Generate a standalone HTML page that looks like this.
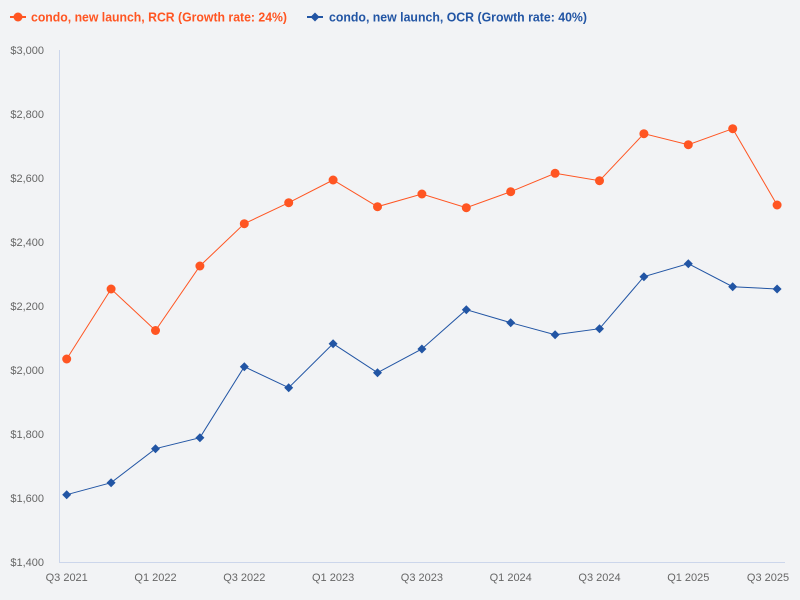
<!DOCTYPE html>
<html><head><meta charset="utf-8"><style>
html,body{margin:0;padding:0;background:#f2f3f5;}
svg{display:block;}
text{font-family:"Liberation Sans",Arial,sans-serif;}
</style></head><body>
<svg width="800" height="600" viewBox="0 0 800 600" xmlns="http://www.w3.org/2000/svg">
<rect width="800" height="600" fill="#f2f3f5"/>
<!-- legend -->
<line x1="10" y1="17" x2="26" y2="17" stroke="#ff5522" stroke-width="2"/>
<circle cx="18" cy="17" r="4.5" fill="#ff5522"/>
<text x="31" y="21.5" font-size="12.5" font-weight="bold" fill="#ff5522" textLength="256" lengthAdjust="spacingAndGlyphs">condo, new launch, RCR (Growth rate: 24%)</text>
<line x1="307" y1="17" x2="323" y2="17" stroke="#2255a4" stroke-width="2"/>
<path d="M315 12.5 L319.5 17 L315 21.5 L310.5 17 Z" fill="#2255a4"/>
<text x="329" y="21.5" font-size="12.5" font-weight="bold" fill="#2255a4" textLength="258" lengthAdjust="spacingAndGlyphs">condo, new launch, OCR (Growth rate: 40%)</text>
<!-- axes -->
<line x1="59.5" y1="50" x2="59.5" y2="562" stroke="#ccd6eb" stroke-width="1"/>
<line x1="59" y1="562.5" x2="785" y2="562.5" stroke="#ccd6eb" stroke-width="1"/>
<g font-size="11" fill="#666" text-anchor="end">
<text x="44" y="54">$3,000</text>
<text x="44" y="118">$2,800</text>
<text x="44" y="182">$2,600</text>
<text x="44" y="246">$2,400</text>
<text x="44" y="310">$2,200</text>
<text x="44" y="374">$2,000</text>
<text x="44" y="438">$1,800</text>
<text x="44" y="502">$1,600</text>
<text x="44" y="566">$1,400</text>
</g>
<g font-size="11" fill="#666" text-anchor="middle">
<text x="66.7" y="581">Q3 2021</text>
<text x="155.5" y="581">Q1 2022</text>
<text x="244.3" y="581">Q3 2022</text>
<text x="333.1" y="581">Q1 2023</text>
<text x="421.9" y="581">Q3 2023</text>
<text x="510.7" y="581">Q1 2024</text>
<text x="599.5" y="581">Q3 2024</text>
<text x="688.3" y="581">Q1 2025</text>
<text x="768" y="581">Q3 2025</text>
</g>
<!-- RCR -->
<polyline fill="none" stroke="#ff5522" stroke-width="1" points="66.7,359 111.1,289 155.5,330.5 199.9,266 244.3,223.7 288.7,202.7 333.1,180 377.5,206.7 421.9,194 466.3,207.7 510.7,191.7 555.1,173.3 599.5,180.7 643.9,133.7 688.3,144.7 732.7,128.7 777.1,205"/>
<g fill="#ff5522">
<circle cx="66.7" cy="359" r="4.5"/><circle cx="111.1" cy="289" r="4.5"/><circle cx="155.5" cy="330.5" r="4.5"/><circle cx="199.9" cy="266" r="4.5"/><circle cx="244.3" cy="223.7" r="4.5"/><circle cx="288.7" cy="202.7" r="4.5"/><circle cx="333.1" cy="180" r="4.5"/><circle cx="377.5" cy="206.7" r="4.5"/><circle cx="421.9" cy="194" r="4.5"/><circle cx="466.3" cy="207.7" r="4.5"/><circle cx="510.7" cy="191.7" r="4.5"/><circle cx="555.1" cy="173.3" r="4.5"/><circle cx="599.5" cy="180.7" r="4.5"/><circle cx="643.9" cy="133.7" r="4.5"/><circle cx="688.3" cy="144.7" r="4.5"/><circle cx="732.7" cy="128.7" r="4.5"/><circle cx="777.1" cy="205" r="4.5"/>
</g>
<!-- OCR -->
<polyline fill="none" stroke="#2255a4" stroke-width="1" points="66.7,494.7 111.1,482.7 155.5,448.7 199.9,437.7 244.3,366.7 288.7,387.7 333.1,343.7 377.5,372.7 421.9,349 466.3,309.7 510.7,322.7 555.1,334.7 599.5,328.7 643.9,276.7 688.3,263.7 732.7,286.7 777.1,289"/>
<g fill="#2255a4">
<path d="M66.7 490.2l4.5 4.5-4.5 4.5-4.5-4.5z"/>
<path d="M111.1 478.2l4.5 4.5-4.5 4.5-4.5-4.5z"/>
<path d="M155.5 444.2l4.5 4.5-4.5 4.5-4.5-4.5z"/>
<path d="M199.9 433.2l4.5 4.5-4.5 4.5-4.5-4.5z"/>
<path d="M244.3 362.2l4.5 4.5-4.5 4.5-4.5-4.5z"/>
<path d="M288.7 383.2l4.5 4.5-4.5 4.5-4.5-4.5z"/>
<path d="M333.1 339.2l4.5 4.5-4.5 4.5-4.5-4.5z"/>
<path d="M377.5 368.2l4.5 4.5-4.5 4.5-4.5-4.5z"/>
<path d="M421.9 344.5l4.5 4.5-4.5 4.5-4.5-4.5z"/>
<path d="M466.3 305.2l4.5 4.5-4.5 4.5-4.5-4.5z"/>
<path d="M510.7 318.2l4.5 4.5-4.5 4.5-4.5-4.5z"/>
<path d="M555.1 330.2l4.5 4.5-4.5 4.5-4.5-4.5z"/>
<path d="M599.5 324.2l4.5 4.5-4.5 4.5-4.5-4.5z"/>
<path d="M643.9 272.2l4.5 4.5-4.5 4.5-4.5-4.5z"/>
<path d="M688.3 259.2l4.5 4.5-4.5 4.5-4.5-4.5z"/>
<path d="M732.7 282.2l4.5 4.5-4.5 4.5-4.5-4.5z"/>
<path d="M777.1 284.5l4.5 4.5-4.5 4.5-4.5-4.5z"/>
</g>
</svg>
</body></html>
